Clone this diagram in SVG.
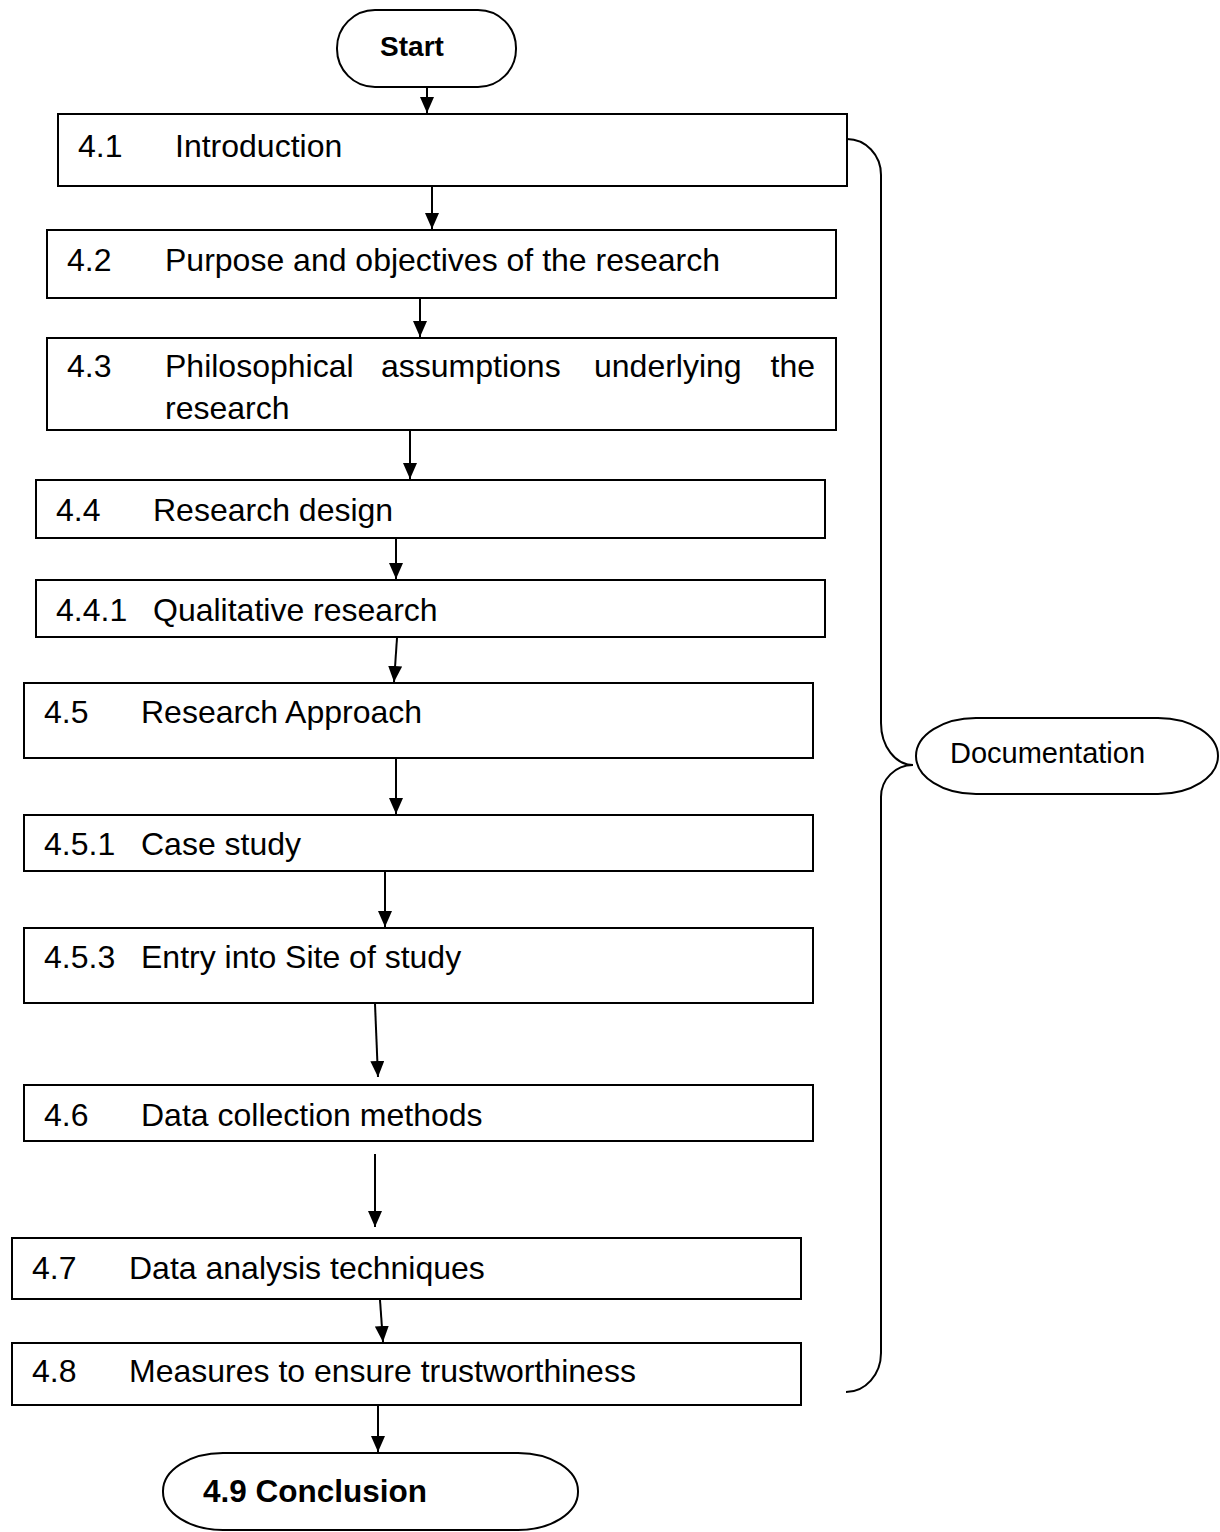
<svg xmlns="http://www.w3.org/2000/svg" width="1220" height="1532" viewBox="0 0 1220 1532">
  <style>
    .box { fill: #ffffff; stroke: #000000; stroke-width: 2; }
    .term { fill: #ffffff; stroke: #000000; stroke-width: 2; }
    .lbl { font-family: "Liberation Sans", Arial, sans-serif; font-size: 32px; fill: #000000; }
    .bold { font-family: "Liberation Sans", Arial, sans-serif; font-weight: bold; fill: #000000; }
    .doc { font-family: "Liberation Sans", Arial, sans-serif; font-size: 29px; fill: #000000; }
    .arrow { stroke: #000000; stroke-width: 2; fill: none; marker-end: url(#head); }
    .brace { stroke: #000000; stroke-width: 2; fill: none; }
  </style>
  <defs>
    <!-- filled triangular arrowhead, tip at the line end -->
    <marker id="head" viewBox="0 0 16 14" refX="16" refY="7" markerWidth="16" markerHeight="14" markerUnits="userSpaceOnUse" orient="auto">
      <path d="M0,0 L16,7 L0,14 Z" fill="#000000"/>
    </marker>
  </defs>

  <g id="connectors">
    <line class="arrow" x1="427" y1="87" x2="427" y2="113"/>
    <line class="arrow" x1="432" y1="187" x2="432" y2="229"/>
    <line class="arrow" x1="420" y1="299" x2="420" y2="337"/>
    <line class="arrow" x1="410" y1="431" x2="410" y2="479"/>
    <line class="arrow" x1="396" y1="539" x2="396" y2="579"/>
    <line class="arrow" x1="397" y1="638" x2="394" y2="682"/>
    <line class="arrow" x1="396" y1="759" x2="396" y2="814"/>
    <line class="arrow" x1="385" y1="872" x2="385" y2="927"/>
    <line class="arrow" x1="375" y1="1004" x2="378" y2="1077"/>
    <line class="arrow" x1="375" y1="1154" x2="375" y2="1227"/>
    <line class="arrow" x1="380" y1="1300" x2="383" y2="1342"/>
    <line class="arrow" x1="378" y1="1406" x2="378" y2="1452"/>
    <!-- brace gathering all sections into Documentation -->
    <path class="brace" d="M847,139 A34,36 0 0 1 881,175 L881,723 A32,42 0 0 0 913,765 A32,32 0 0 0 881,797 L881,1353 A35,39 0 0 1 846,1392"/>
  </g>

  <g id="start">
    <rect class="term" x="337" y="10" width="179" height="77" rx="38" ry="38"/>
    <text class="bold" x="412" y="56" font-size="28" text-anchor="middle">Start</text>
  </g>

  <g id="s4-1">
    <rect class="box" x="58" y="114" width="789" height="72"/>
    <text class="lbl" x="78" y="157">4.1</text>
    <text class="lbl" x="175" y="157">Introduction</text>
  </g>

  <g id="s4-2">
    <rect class="box" x="47" y="230" width="789" height="68"/>
    <text class="lbl" x="67" y="271">4.2</text>
    <text class="lbl" x="165" y="271">Purpose and objectives of the research</text>
  </g>

  <g id="s4-3">
    <rect class="box" x="47" y="338" width="789" height="92"/>
    <text class="lbl" x="67" y="377">4.3</text>
    <text class="lbl" y="377"><tspan x="165">Philosophical</tspan><tspan x="381">assumptions</tspan><tspan x="594">underlying</tspan><tspan x="815" text-anchor="end">the</tspan></text>
    <text class="lbl" x="165" y="419">research</text>
  </g>

  <g id="s4-4">
    <rect class="box" x="36" y="480" width="789" height="58"/>
    <text class="lbl" x="56" y="521">4.4</text>
    <text class="lbl" x="153" y="521">Research design</text>
  </g>

  <g id="s4-4-1">
    <rect class="box" x="36" y="580" width="789" height="57"/>
    <text class="lbl" x="56" y="621">4.4.1</text>
    <text class="lbl" x="153" y="621">Qualitative research</text>
  </g>

  <g id="s4-5">
    <rect class="box" x="24" y="683" width="789" height="75"/>
    <text class="lbl" x="44" y="723">4.5</text>
    <text class="lbl" x="141" y="723">Research Approach</text>
  </g>

  <g id="s4-5-1">
    <rect class="box" x="24" y="815" width="789" height="56"/>
    <text class="lbl" x="44" y="855">4.5.1</text>
    <text class="lbl" x="141" y="855">Case study</text>
  </g>

  <g id="s4-5-3">
    <rect class="box" x="24" y="928" width="789" height="75"/>
    <text class="lbl" x="44" y="968">4.5.3</text>
    <text class="lbl" x="141" y="968">Entry into Site of study</text>
  </g>

  <g id="s4-6">
    <rect class="box" x="24" y="1085" width="789" height="56"/>
    <text class="lbl" x="44" y="1126">4.6</text>
    <text class="lbl" x="141" y="1126">Data collection methods</text>
  </g>

  <g id="s4-7">
    <rect class="box" x="12" y="1238" width="789" height="61"/>
    <text class="lbl" x="32" y="1279">4.7</text>
    <text class="lbl" x="129" y="1279">Data analysis techniques</text>
  </g>

  <g id="s4-8">
    <rect class="box" x="12" y="1343" width="789" height="62"/>
    <text class="lbl" x="32" y="1382">4.8</text>
    <text class="lbl" x="129" y="1382">Measures to ensure trustworthiness</text>
  </g>

  <g id="conclusion">
    <rect class="term" x="163" y="1453" width="415" height="77" rx="60" ry="38"/>
    <text class="bold" x="203" y="1502" font-size="31.5">4.9 Conclusion</text>
  </g>

  <g id="documentation">
    <rect class="term" x="916" y="718" width="302" height="76" rx="60" ry="38"/>
    <text class="doc" x="950" y="763">Documentation</text>
  </g>
</svg>
